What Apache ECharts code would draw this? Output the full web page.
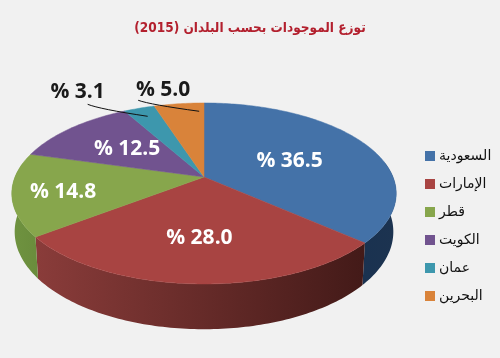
<!DOCTYPE html>
<html>
<head>
<meta charset="utf-8">
<style>
  html, body { margin: 0; padding: 0; background: #f1f1f1; }
  #chart { width: 500px; height: 358px; }
</style>
<script src="https://cdn.jsdelivr.net/npm/echarts@6/dist/echarts.min.js"></script>
</head>
<body>
<div id="chart"></div>
<script>
const countries = ['السعودية', 'الإمارات', 'قطر', 'الكويت', 'عمان', 'البحرين']
const shares = [36.5, 28.0, 14.8, 12.5, 3.1, 5.0]

const topColors = ['#4472a8', '#a84442', '#87a64c', '#71538f', '#3d97ad', '#d9833a']
const sideLeftColors = ['#1c3350', '#8a3c3a', '#6f9340', '#5a4272', '#2f7a8c', '#b06a2e']
const sideRightColors = ['#1a3250', '#431a18', '#6a8c3c', '#4a365e', '#27677a', '#96591f']
const labelColors = ['#fff', '#fff', '#fff', '#fff', '#1a1a1a', '#1a1a1a']

// radial position of each label inside its slice, then a small nudge in pixels
const labelRadius = [0.46, 0.62, 0.74, 0.55, 0.85, 0.85]
const labelNudge = [[9, 0], [0, 0], [0, 2], [0, 0], [-70, -25], [-19, -23]]
// leader lines of the two small slices: [start dx, start dy, end dx, end dy]
const leaders = [null, null, null, null, [-60, -13, 0, -1], [-44, -13, 17, -2]]

// tilted disc: perspective projection fitted to the picture
const cx = 204
const cy = 177
const rx = 189
const ry = 87.5
const persp = 0.182
const depth = 37

const total = shares.reduce((a, b) => a + b, 0)
const toRad = Math.PI / 180

function project(angle, r) {
  const X = Math.sin(angle) * r
  const Y = -Math.cos(angle) * r
  const w = 1 - persp * Y
  return [cx + rx * X / w, cy + ry * Y / w, w]
}

function sampleArc(from, to) {
  const pts = []
  const steps = Math.max(2, Math.ceil((to - from) / toRad))
  for (let i = 0; i <= steps; i++) {
    pts.push(from + (to - from) * i / steps)
  }
  return pts
}

function sliceItem(idx) {
  const before = shares.slice(0, idx).reduce((a, b) => a + b, 0)
  const start = before / total * 2 * Math.PI
  const end = (before + shares[idx]) / total * 2 * Math.PI
  const mid = (start + end) / 2
  const children = []

  // side wall, front part only
  const sideFrom = Math.max(start, 80 * toRad)
  const sideTo = Math.min(end, 280 * toRad)
  if (sideTo > sideFrom) {
    const upper = sampleArc(sideFrom, sideTo).map(a => project(a, 1))
    const lower = upper.slice().reverse().map(p => [cx + (p[0] - cx) * 0.985, p[1] + depth / p[2]])
    children.push({
      type: 'polygon',
      z2: 1,
      shape: { points: upper.map(p => [p[0], p[1]]).concat(lower) },
      style: {
        fill: new echarts.graphic.LinearGradient(0, 0, 1, 0, [
          { offset: 0, color: idx === 0 ? sideRightColors[idx] : sideLeftColors[idx] },
          { offset: 1, color: idx === 0 ? sideLeftColors[idx] : sideRightColors[idx] }
        ])
      }
    })
  }

  // top face
  const rim = sampleArc(start, end).map(a => project(a, 1).slice(0, 2))
  children.push({
    type: 'polygon',
    z2: 2,
    shape: { points: [[cx, cy]].concat(rim) },
    style: { fill: topColors[idx], stroke: topColors[idx], lineWidth: 0.5 }
  })

  // label
  const anchor = project(mid, labelRadius[idx])
  children.push({
    type: 'text',
    z2: 4,
    style: {
      text: '% ' + shares[idx].toFixed(1),
      x: anchor[0] + labelNudge[idx][0],
      y: anchor[1] + labelNudge[idx][1],
      fill: labelColors[idx],
      font: 'bold 21px "Open Sans"',
      align: 'center',
      verticalAlign: 'middle'
    }
  })

  if (leaders[idx]) {
    const l = leaders[idx]
    const x1 = anchor[0] + l[0]
    const y1 = anchor[1] + l[1]
    const x2 = anchor[0] + l[2]
    const y2 = anchor[1] + l[3]
    children.push({
      type: 'bezierCurve',
      z2: 3,
      shape: { x1, y1, x2, y2, cpx1: x1 + (x2 - x1) * 0.2, cpy1: y1 + (y2 - y1) * 0.4 },
      style: { stroke: '#111', lineWidth: 1, fill: 'none' }
    })
  }

  return { type: 'group', children }
}

const chart = echarts.init(document.getElementById('chart'))

chart.setOption({
  animation: false,
  backgroundColor: '#f1f1f1',
  title: {
    text: 'توزع الموجودات بحسب البلدان (2015)',
    left: 'center',
    top: 16,
    textStyle: {
      fontFamily: '"DejaVu Sans Condensed", "DejaVu Sans"',
      fontSize: 13.5,
      fontWeight: 'bold',
      color: '#b3202e'
    }
  },
  legend: {
    orient: 'vertical',
    left: 420,
    top: 144,
    icon: 'rect',
    itemWidth: 10,
    itemHeight: 10,
    itemGap: 14,
    selectedMode: false,
    textStyle: {
      fontFamily: '"DejaVu Sans"',
      fontSize: 14,
      color: '#111',
      padding: [0, 0, 0, -1]
    },
    data: countries
  },
  series: countries.map((name, i) => ({
    type: 'custom',
    name,
    coordinateSystem: 'none',
    itemStyle: { color: topColors[i] },
    data: [shares[i]],
    renderItem: () => sliceItem(i)
  }))
})

window.addEventListener('resize', () => chart.resize())
</script>
</body>
</html>
